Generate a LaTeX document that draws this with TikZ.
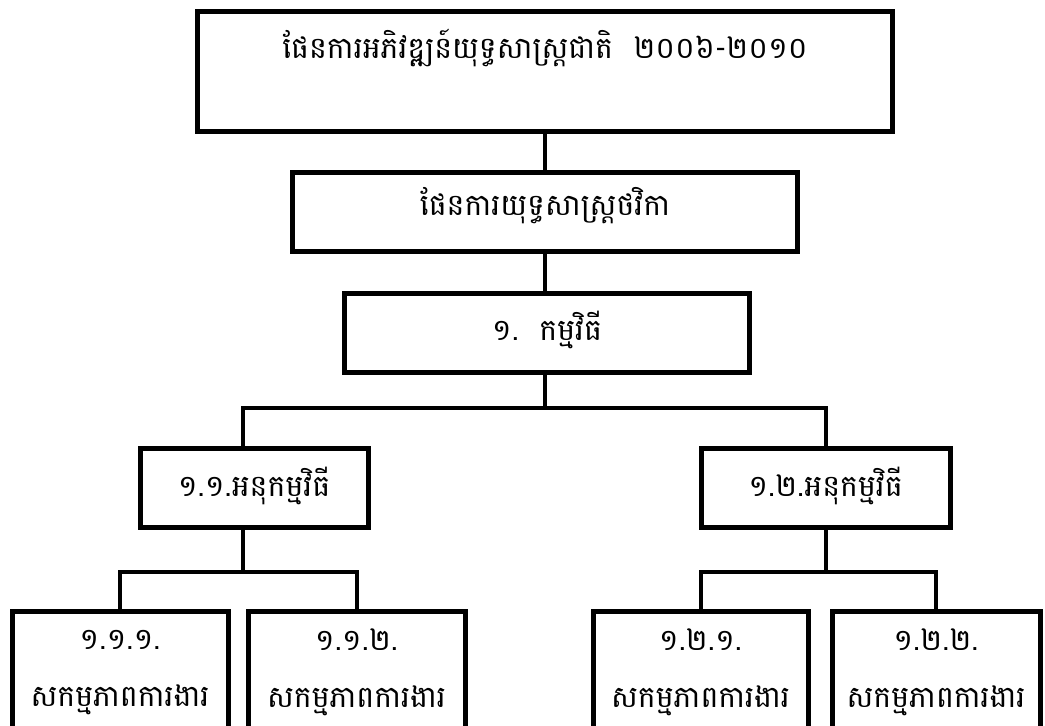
\documentclass[tikz,border=0pt]{standalone}
\usepackage{fontspec}
\newfontfamily\khmerfont[Script=Khmer]{Battambang}
\usetikzlibrary{positioning}

\begin{document}
\begin{tikzpicture}[
    x=0.75pt, y=-0.75pt,
    box/.style={draw, line width=3.75pt, inner sep=0pt, align=center, font=\khmerfont\fontsize{22.5}{27}\selectfont},
    leaf/.style={box, anchor=north, minimum height=122*0.75pt},
    link/.style={line width=3pt}
]
\useasboundingbox (0,0) rectangle (1045,725);
% plan levels
\node[box, minimum width=695*0.75pt, minimum height=120*0.75pt, text height=14pt, text depth=33.5pt] (plan) at (545,71) {ផែនការអភិវឌ្ឍន៍យុទ្ធសាស្ត្រជាតិ\ \ ២០០៦-២០១០};
\node[box, minimum width=505*0.75pt, minimum height=79*0.75pt, text height=12pt, text depth=7.5pt] (budget) at (545,212) {ផែនការយុទ្ធសាស្ត្រថវិកា};
\node[box, minimum width=405*0.75pt, minimum height=79*0.75pt, text height=14pt, text depth=2.75pt] (prog) at (547,332.5) {១.\ \ កម្មវិធី};
% sub-programmes
\node[box, minimum width=228*0.75pt, minimum height=79*0.75pt, text height=14pt, text depth=1.25pt] (subA) at (254,487.5) {១.១.អនុកម្មវិធី};
\node[box, minimum width=249*0.75pt, minimum height=79*0.75pt, text height=14pt, text depth=1.25pt] (subB) at (825.5,487.5) {១.២.អនុកម្មវិធី};
% activities
\node[leaf, minimum width=216*0.75pt] (leafA) at (120,609) {១.១.១.\\[16pt]សកម្មភាពការងារ};
\node[leaf, minimum width=217*0.75pt] (leafB) at (356.5,609) {១.១.២.\\[16pt]សកម្មភាពការងារ};
\node[leaf, minimum width=215*0.75pt] (leafC) at (700.5,609) {១.២.១.\\[16pt]សកម្មភាពការងារ};
\node[leaf, minimum width=208*0.75pt] (leafD) at (936,609) {១.២.២.\\[16pt]សកម្មភាពការងារ};
% connectors
\coordinate (fork1) at (545,408);
\coordinate (forkA) at (243,572);
\coordinate (forkB) at (826,572);
\draw[link] (plan.south) -- (budget.north);
\draw[link] (budget.south) -- (budget.south |- prog.north);
\draw[link] (prog.south -| fork1) -- (fork1);
\draw[link] (subA.north -| forkA) |- (fork1) -| (subB.north -| forkB);
\draw[link] (subA.south -| forkA) -- (forkA);
\draw[link] (leafA.north) |- (forkA) -| (leafB.north);
\draw[link] (subB.south -| forkB) -- (forkB);
\draw[link] (leafC.north) |- (forkB) -| (leafD.north);
\end{tikzpicture}
\end{document}
